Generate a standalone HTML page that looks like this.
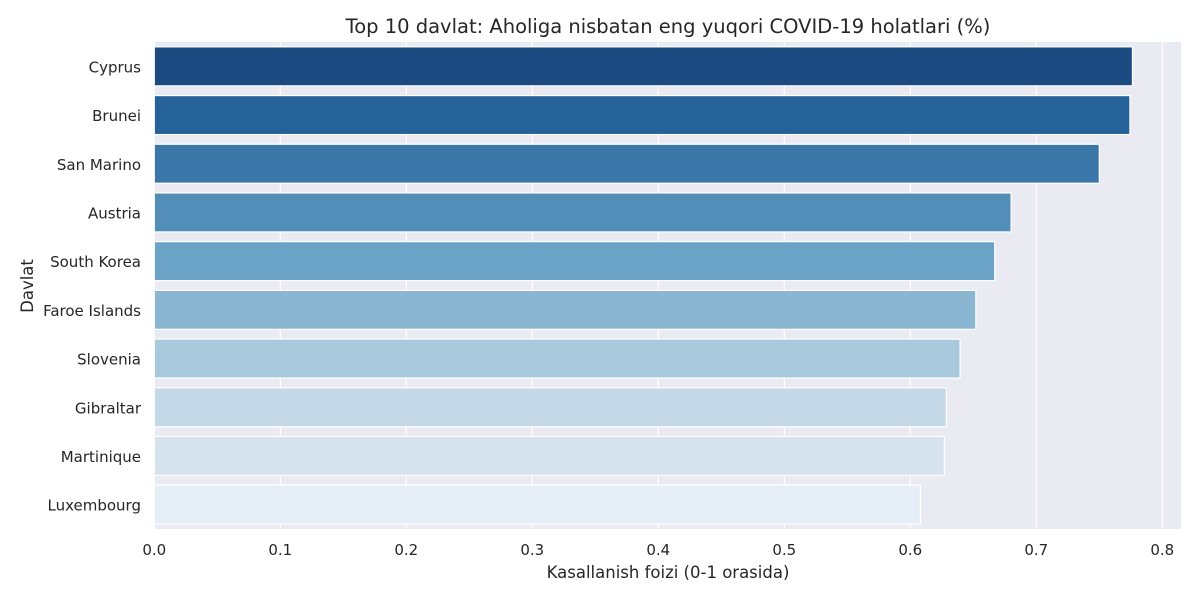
<!DOCTYPE html>
<html><head><meta charset="utf-8"><style>
body{margin:0;background:#fff;font-family:"DejaVu Sans","Liberation Sans",sans-serif}
svg text{font-family:"DejaVu Sans","Liberation Sans",sans-serif;fill:#262626}
</style></head><body>
<svg id="chart" width="1200" height="600">
<text x="668" y="33" font-size="19.5" text-anchor="middle">Top 10 davlat: Aholiga nisbatan eng yuqori COVID-19 holatlari (%)</text>
<rect x="154.3" y="42" width="1026.7" height="487" fill="#eaeaf2"/>
<g id="grid"></g><g id="bars"></g><g id="xticks"></g><g id="yticks"></g>
<text x="668" y="578" font-size="16.5" text-anchor="middle">Kasallanish foizi (0-1 orasida)</text>
<text transform="translate(33,286) rotate(-90)" font-size="16.5" text-anchor="middle">Davlat</text>
</svg>
<script>
const countries=["Cyprus","Brunei","San Marino","Austria","South Korea","Faroe Islands","Slovenia","Gibraltar","Martinique","Luxembourg"];
const values=[0.7763,0.7743,0.750,0.680,0.667,0.652,0.6395,0.6286,0.627,0.608];
const tickValues=[0,0.1,0.2,0.3,0.4,0.5,0.6,0.7,0.8];
const tickLabels=["0.0","0.1","0.2","0.3","0.4","0.5","0.6","0.7","0.8"];
const colors=["#1b4b80","#26629a","#3a76a8","#528eb8","#6aa3c6","#8ab6d1","#a8c8dc","#c4d8e8","#d6e3ef","#e5eef7"];
const NS="http://www.w3.org/2000/svg";
const x0=154.3,kx=1260,plotTop=42,band=48.7;
const X=v=>x0+v*kx, Y=i=>plotTop+i*band;
function mk(t,a,p){const e=document.createElementNS(NS,t);for(const k in a)e.setAttribute(k,a[k]);p.appendChild(e);return e;}
const g=document.getElementById('grid'),b=document.getElementById('bars'),xt=document.getElementById('xticks'),yt=document.getElementById('yticks');
tickValues.forEach((v,i)=>{
 const l=mk('line',{x1:X(v),x2:X(v),y1:42,y2:529,stroke:'#fff','stroke-width':1.2},g);
 
 
 const t=mk('text',{x:X(v),y:555,'font-size':15,'text-anchor':'middle'},xt);t.textContent=tickLabels[i];
 
 
});
countries.forEach((c,i)=>{
 const r=mk('rect',{x:X(0),y:Y(i)+band*0.1,width:X(values[i])-X(0),height:band*0.8,fill:colors[i],stroke:'#fff','stroke-width':1.2},b);
 
 
 const t=mk('text',{x:141,y:Y(i)+band/2+6,'font-size':15,'text-anchor':'end'},yt);t.textContent=c;
 
 
});
</script>
</body></html>
